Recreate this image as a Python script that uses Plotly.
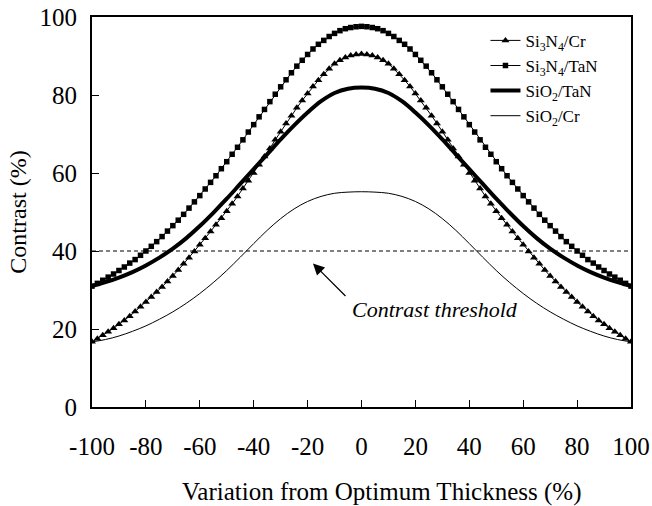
import plotly.graph_objects as go

# x positions (variation from optimum thickness, %)
x_marked = list(range(-100, 101, 2))
x_lines = list(range(-100, 101, 5))

si3n4_tan_left = [31.0,31.7,32.5,33.3,34.1,35.0,35.9,36.9,37.8,38.9,40.0,41.2,42.4,43.7,45.1,46.5,47.9,49.4,51.0,52.6,54.2,55.9,57.6,59.3,61.1,62.9,64.8,66.6,68.5,70.5,72.4,74.4,76.3,78.3,80.2,82.1,83.9,85.7,87.4,88.9,90.4,91.8,93.0,94.0,95.0,95.8,96.5,97.0,97.3,97.5,97.6]
si3n4_tan_right = [97.5,97.3,97.0,96.5,95.8,95.0,94.0,93.0,91.8,90.4,88.9,87.4,85.7,83.9,82.1,80.2,78.3,76.3,74.4,72.4,70.5,68.5,66.6,64.8,62.9,61.1,59.3,57.6,55.9,54.2,52.6,51.0,49.4,47.9,46.5,45.1,43.7,42.4,41.2,40.0,38.9,37.8,36.9,35.9,35.0,34.1,33.3,32.5,31.7,31.0]
si3n4_tan = si3n4_tan_left + si3n4_tan_right

si3n4_cr_left = [16.7,17.5,18.4,19.3,20.2,21.2,22.2,23.3,24.5,25.7,26.9,28.2,29.5,30.8,32.2,33.6,35.1,36.7,38.3,39.9,41.6,43.3,45.0,46.7,48.4,50.2,52.1,54.0,56.0,58.0,60.0,62.1,64.2,66.3,68.5,70.6,72.7,74.7,76.7,78.6,80.4,82.2,83.8,85.3,86.7,88.0,88.9,89.6,90.1,90.4,90.5]
si3n4_cr_right = [90.4,90.1,89.6,88.9,88.0,86.7,85.3,83.8,82.2,80.4,78.6,76.7,74.7,72.7,70.6,68.5,66.3,64.2,62.1,60.0,58.0,56.0,54.0,52.1,50.2,48.4,46.7,45.0,43.3,41.6,39.9,38.3,36.7,35.1,33.6,32.2,30.8,29.5,28.2,26.9,25.7,24.5,23.3,22.2,21.2,20.2,19.3,18.4,17.5,16.7]
si3n4_cr = si3n4_cr_left + si3n4_cr_right

sio2_tan = [31.0,32.0,33.2,34.6,36.3,38.3,40.6,43.3,46.4,49.8,53.4,57.2,61.0,64.8,68.6,72.2,75.5,78.4,80.5,81.6,81.9,
            81.6,80.5,78.4,75.5,72.2,68.6,64.8,61.0,57.2,53.4,49.8,46.4,43.3,40.6,38.3,36.3,34.6,33.2,32.0,31.0]

sio2_cr = [16.7,17.3,18.2,19.4,20.8,22.5,24.4,26.6,29.1,31.9,35.0,38.4,41.9,45.3,48.3,50.8,52.7,54.0,54.8,55.1,55.2,
           55.1,54.8,54.0,52.7,50.8,48.3,45.3,41.9,38.4,35.0,31.9,29.1,26.6,24.4,22.5,20.8,19.4,18.2,17.3,16.7]

threshold = 40
x_ticks = [-100, -80, -60, -40, -20, 0, 20, 40, 60, 80, 100]
y_ticks = [0, 20, 40, 60, 80, 100]

FONT = "Liberation Serif, Times New Roman, Times, DejaVu Serif, serif"

fig = go.Figure()

fig.add_trace(go.Scatter(
    x=[x_marked[0], x_marked[-1]], y=[threshold, threshold], mode="lines",
    line=dict(color="black", width=1, dash="4px,3px"), showlegend=False, hoverinfo="skip"))

fig.add_trace(go.Scatter(
    x=x_marked, y=si3n4_cr, mode="lines+markers", name="Si<sub>3</sub>N<sub>4</sub>/Cr",
    line=dict(color="black", width=1),
    marker=dict(symbol="triangle-up", size=7, color="black")))
fig.add_trace(go.Scatter(
    x=x_marked, y=si3n4_tan, mode="lines+markers", name="Si<sub>3</sub>N<sub>4</sub>/TaN",
    line=dict(color="black", width=1),
    marker=dict(symbol="square", size=5.5, color="black")))
fig.add_trace(go.Scatter(
    x=x_lines, y=sio2_tan, mode="lines", name="SiO<sub>2</sub>/TaN",
    line=dict(color="black", width=4, shape="spline")))
fig.add_trace(go.Scatter(
    x=x_lines, y=sio2_cr, mode="lines", name="SiO<sub>2</sub>/Cr",
    line=dict(color="black", width=1, shape="spline")))

fig.add_annotation(x=-18, y=36.8, ax=34, ay=34, axref="pixel", ayref="pixel",
                   text="", showarrow=True, arrowhead=2, arrowsize=1.9, arrowwidth=1.2,
                   arrowcolor="black")
fig.add_annotation(x=-4.4, y=24.9, text="<i>Contrast threshold</i>", showarrow=False,
                   xanchor="left", yanchor="middle",
                   font=dict(family=FONT, size=22, color="black"))

# x-axis title (placed as paper annotation, slightly right of centre as in the reference)
fig.add_annotation(x=0.538, y=-0.218, xref="paper", yref="paper",
                   text="Variation from Optimum Thickness (%)", showarrow=False,
                   xanchor="center", yanchor="middle",
                   font=dict(family=FONT, size=25, color="black"))

axis_common = dict(showline=True, linecolor="black", linewidth=2, mirror=True,
                   ticks="inside", ticklen=7, tickwidth=1, tickcolor="black",
                   showgrid=False, zeroline=False,
                   tickfont=dict(family=FONT, size=25, color="black"))

fig.update_xaxes(range=[-100, 100], tickvals=x_ticks, ticktext=[str(v) for v in x_ticks],
                 ticklabelstandoff=16, **axis_common)
fig.update_yaxes(range=[0, 100], tickvals=y_ticks, ticktext=[str(v) for v in y_ticks],
                 ticklabelstandoff=8,
                 title=dict(text="Contrast (%)", font=dict(family=FONT, size=24, color="black"),
                            standoff=6),
                 **axis_common)

fig.update_layout(
    width=652, height=506,
    margin=dict(l=92, r=21, t=17, b=99, autoexpand=False),
    paper_bgcolor="white", plot_bgcolor="white",
    font=dict(family=FONT, color="black"),
    legend=dict(x=0.73, y=0.985, xanchor="left", yanchor="top",
                bgcolor="rgba(0,0,0,0)", font=dict(family=FONT, size=17, color="black"),
                tracegroupgap=0),
)

fig.write_html("out.html")
